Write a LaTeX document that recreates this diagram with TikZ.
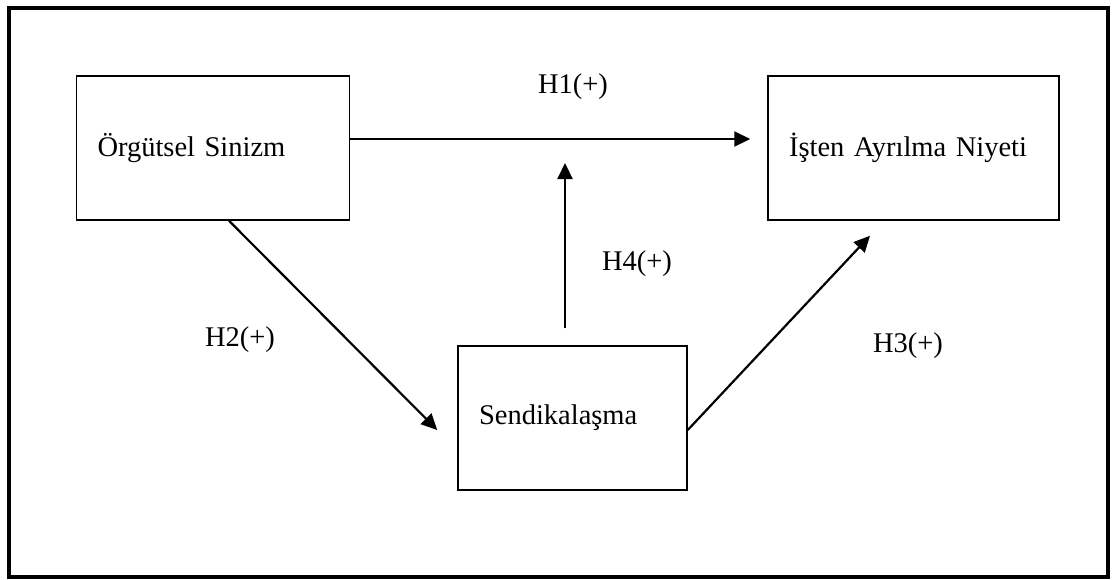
\documentclass[tikz,border=0pt]{standalone}
\usepackage{fontspec}
\setmainfont{Liberation Serif}
\usepackage{tikz}
\usetikzlibrary{arrows.meta, positioning}

\begin{document}
\begin{tikzpicture}[
  x=1pt, y=-1pt,
  every node/.style={font=\fontsize{28.5}{33}\selectfont},
  var/.style={rectangle, draw, line width=1.5pt, minimum height=144pt,
              inner xsep=21pt, align=left},
  flow/.style={-{Triangle[length=16pt, width=15pt]}, line width=2.2pt},
  hyp/.style={inner sep=0pt}
]
\useasboundingbox (0,0) rectangle (1115,579);

% outer frame
\draw[line width=4pt] (9,8) rectangle (1108,577);

% variables
\node[var, text width=231pt] (sinizm) at (213,148) {Örgütsel Sinizm};
\node[var, text width=249pt] (niyet) at (913.5,148) {İşten Ayrılma Niyeti};
\node[var, text width=187pt] (sendika) at (572.5,418) {Sendikalaşma};

% moderator arrow end
\coordinate (mod) at (565,163);

% hypotheses
\draw[flow] ([yshift=9pt]sinizm.east) -- ([xshift=-17pt, yshift=9pt]niyet.west);
\draw[flow] ([xshift=16pt]sinizm.south) -- ([xshift=-20pt, yshift=-12pt]sendika.west);
\draw[flow] ([yshift=-12pt]sendika.east) -- ([xshift=-43.5pt, yshift=-15pt]niyet.south);
\draw[flow, shorten <=17pt] (mod |- sendika.north) -- (mod);

\node[hyp] (h1) at (573,87) {H1(+)};
\node[hyp] (h2) at (240,340) {H2(+)};
\node[hyp] (h3) at (908,346) {H3(+)};
\node[hyp] (h4) at (637,264) {H4(+)};

\end{tikzpicture}
\end{document}
